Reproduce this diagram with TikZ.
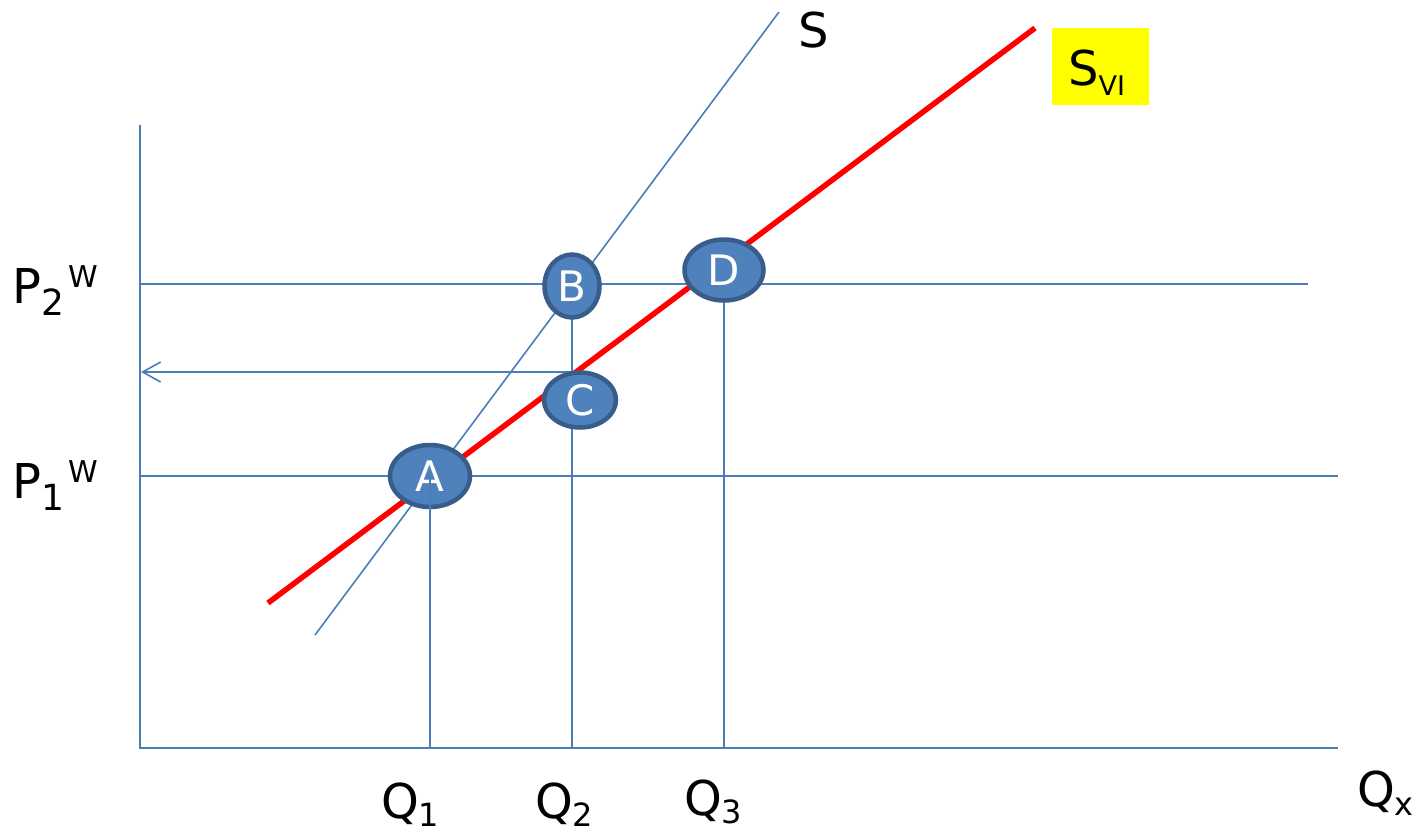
\documentclass[tikz,border=0pt]{standalone}
\usepackage{fontspec}
\setmainfont{DejaVu Sans}
\usetikzlibrary{arrows.meta,shapes.geometric}
\definecolor{ln}{HTML}{4A7EBB}
\definecolor{fillb}{HTML}{4F81BD}
\definecolor{bord}{HTML}{385D8A}
\definecolor{redl}{HTML}{FF0000}
\definecolor{hiyel}{HTML}{FFFF00}
\pgfdeclarelayer{bgfill}
\pgfdeclarelayer{bglines}
\pgfsetlayers{bgfill,bglines,main}
\begin{document}
\begin{tikzpicture}[x=1pt,y=-1pt,
  guide/.style={draw=ln, line width=1.6pt},
  supply/.style={draw=redl, line width=5.5pt},
  pnt/.style={ellipse, fill=fillb, draw=bord, line width=4.5pt, text=white,
    font=\fontsize{42}{44}\selectfont, inner sep=0pt},
  lbl/.style={inner sep=0pt, font=\fontsize{48}{52}\selectfont}]
\useasboundingbox (0,0) rectangle (1413,833);
\begin{pgfonlayer}{bgfill}
\fill[white] (0,0) rectangle (1413,833);
\end{pgfonlayer}

% coordinates
\coordinate (O) at (140,748);
\coordinate (ytop) at (140,125);
\coordinate (xend) at (1338,748);
\coordinate (p2s) at (140,284);
\coordinate (p2e) at (1308,284);
\coordinate (p1s) at (140,476);
\coordinate (p1e) at (1338,476);
\coordinate (arrS) at (580,372);
\coordinate (arrE) at (141,372);
\coordinate (s0) at (315,635);
\coordinate (s1) at (779,12);
\coordinate (r0) at (268,603);
\coordinate (r1) at (1035,28);

% points
\node[pnt, minimum width=80pt, minimum height=62pt] (A) at (430,476) {A};
\node[pnt, minimum width=55pt, minimum height=63pt] (B) at (572,286) {B};
\node[pnt, minimum width=72pt, minimum height=55pt] (C) at (580,400) {C};
\node[pnt, minimum width=79pt, minimum height=61pt] (D) at (724,270) {D};

\begin{pgfonlayer}{bglines}
\draw[guide] (ytop) -- (O) -- (xend);
\draw[guide] (p2s) -- (p2e);
\draw[guide] (p1s) -- (p1e);
\draw[guide, -{Straight Barb[length=18pt,width=20pt]}] (arrS) -- (arrE);
\draw[guide] (B.center) -- (B.center |- O);
\draw[guide] (D.center) -- (D.center |- O);
\draw[guide] (s0) -- (s1);
\draw[supply] (r0) -- (r1);
\end{pgfonlayer}
\draw[guide] (A.center) -- (A.center |- O);

% labels
\node[lbl, anchor=center] (S) at (814,30) {S};
\node[fill=hiyel, minimum width=97pt, minimum height=77pt, inner sep=0pt] (sviBox) at (1100.5,66.5) {};
\node[lbl, anchor=base west] (svi) at (1068,85) {S\raisebox{-10pt}{\fontsize{27}{27}\selectfont VI}};
\node[lbl, anchor=base west] (P2) at (12,303) {P\raisebox{-12pt}{\fontsize{36}{36}\selectfont 2}\hspace{4pt}\raisebox{16pt}{\fontsize{30}{30}\selectfont W}};
\node[lbl, anchor=base west] (P1) at (12,498) {P\raisebox{-12pt}{\fontsize{36}{36}\selectfont 1}\hspace{4pt}\raisebox{16pt}{\fontsize{30}{30}\selectfont W}};
\node[lbl, anchor=base west] (Q1) at (381,818) {Q\raisebox{-8pt}{\fontsize{32}{32}\selectfont 1}};
\node[lbl, anchor=base west] (Q2) at (535,818) {Q\raisebox{-8pt}{\fontsize{32}{32}\selectfont 2}};
\node[lbl, anchor=base west] (Q3) at (684,815) {Q\raisebox{-8pt}{\fontsize{32}{32}\selectfont 3}};
\node[lbl, anchor=base west] (Qx) at (1357,806) {Q\raisebox{-9pt}{\fontsize{32}{32}\selectfont x}};
\end{tikzpicture}
\end{document}
